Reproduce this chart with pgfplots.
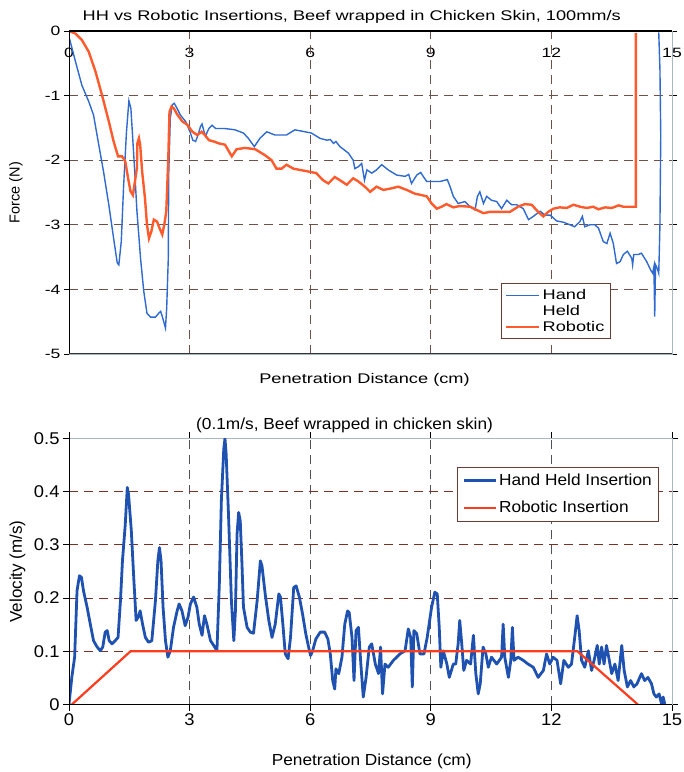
\documentclass[border=0pt]{standalone}
\usepackage{fontspec}
\setmainfont{Liberation Sans}
\newfontfamily\wideA{Liberation Sans}[FakeStretch=1.3]
\newfontfamily\wideB{Liberation Sans}[FakeStretch=1.08]
\usepackage{pgfplots}
\pgfplotsset{compat=1.18}

\definecolor{hhblue}{HTML}{2F6AD0}
\definecolor{robo}{HTML}{FF5A2C}
\definecolor{hhdeep}{HTML}{1F52B0}
\definecolor{robred}{HTML}{FF3C1E}
\definecolor{gridbrown}{HTML}{6E5249}
\definecolor{gridred}{HTML}{7A3226}
\definecolor{gridgray}{HTML}{4F5358}
\definecolor{framegray}{HTML}{A9B6C4}
\definecolor{legframe}{HTML}{6A3C34}

\begin{document}
\begin{tikzpicture}
\useasboundingbox (0,0) rectangle (684pt,772pt);

% ---------------- force vs penetration ----------------
\begin{axis}[
  at={(69pt,418pt)}, anchor=south west,
  scale only axis, width=603pt, height=323pt,
  xmin=0, xmax=15, ymin=-5, ymax=0,
  xtick={0,3,...,15}, ytick={-5,-4,...,0},
  xticklabel pos=upper,
  xticklabel style={anchor=north, yshift=-19pt},
  x tick style={draw=none},
  y tick style={black, line width=0.9pt},
  tick align=outside, major tick length=5pt,
  extra x ticks={3,6,9,12}, extra x tick labels={},
  extra y ticks={-4,-3,-2,-1}, extra y tick labels={},
  extra tick style={grid=major, major tick length=0pt},
  major grid style={gridbrown, line width=1.1pt, dash pattern=on 9pt off 6pt},
  axis line style={draw=framegray, line width=0.8pt},
  /pgf/number format/assume math mode=true,
  ticklabel style={font=\wideA\fontsize{13.5}{15}\selectfont},
  title={HH vs Robotic Insertions, Beef wrapped in Chicken Skin, 100mm/s},
  title style={at={(axis description cs:0.469,1.025)}, anchor=center,
    font=\wideA\fontsize{14}{16}\selectfont},
  xlabel={Penetration Distance (cm)},
  xlabel style={at={(axis description cs:0.49,-0.0805)}, anchor=center,
    font=\wideA\fontsize{14}{16}\selectfont},
  ylabel={Force (N)},
  ylabel style={at={(axis description cs:-0.088,0.5)}, anchor=center,
    font=\fontsize{14.5}{16}\selectfont},
  legend image code/.code={\draw[#1] (0pt,0pt) -- (33pt,0pt);},
  legend cell align=left,
  legend style={at={(0.716,0.219)}, anchor=north west, draw=legframe,
    line width=1pt, font=\wideA\fontsize{14}{15}\selectfont,
    row sep=0pt, inner sep=4pt},
]
\addplot[hhblue, line width=1.4pt] coordinates {
(0,-0.09) (0.16,-0.47) (0.32,-0.84) (0.49,-1.09) (0.61,-1.30) (0.74,-1.76)
(0.86,-2.18) (0.99,-2.69) (1.11,-3.21) (1.20,-3.59) (1.24,-3.62) (1.30,-3.26)
(1.36,-2.38) (1.43,-1.56) (1.49,-1.08) (1.54,-1.20) (1.59,-1.71) (1.64,-2.23)
(1.69,-2.79) (1.78,-3.52) (1.86,-4.03) (1.94,-4.37) (2.03,-4.43) (2.15,-4.43)
(2.23,-4.37) (2.28,-4.34) (2.33,-4.44) (2.40,-4.60) (2.43,-4.29) (2.47,-3.52)
(2.48,-2.23) (2.52,-1.35) (2.57,-1.14) (2.62,-1.12) (2.69,-1.20) (2.77,-1.30)
(2.90,-1.40) (3.01,-1.56) (3.08,-1.69) (3.15,-1.71) (3.21,-1.61) (3.27,-1.48)
(3.31,-1.44) (3.36,-1.56) (3.40,-1.63) (3.44,-1.56) (3.48,-1.51) (3.56,-1.46)
(3.65,-1.51) (3.88,-1.51) (4.13,-1.53) (4.34,-1.58) (4.46,-1.66) (4.61,-1.79)
(4.75,-1.66) (4.92,-1.56) (5.12,-1.61) (5.41,-1.61) (5.62,-1.53) (5.87,-1.56)
(6.03,-1.58) (6.24,-1.66) (6.41,-1.69) (6.50,-1.68) (6.58,-1.74) (6.64,-1.71)
(6.74,-1.79) (6.95,-1.89) (7.07,-2.00) (7.11,-2.13) (7.20,-2.10) (7.28,-2.05)
(7.35,-2.31) (7.41,-2.15) (7.53,-2.20) (7.65,-2.15) (7.78,-2.07) (7.94,-2.15)
(8.15,-2.23) (8.36,-2.25) (8.45,-2.22) (8.52,-2.36) (8.65,-2.23) (8.75,-2.19)
(8.81,-2.25) (8.90,-2.33) (9.06,-2.33) (9.23,-2.33) (9.41,-2.30) (9.48,-2.41)
(9.56,-2.56) (9.68,-2.67) (9.85,-2.64) (9.98,-2.72) (10.10,-2.77) (10.16,-2.56)
(10.22,-2.49) (10.31,-2.67) (10.39,-2.56) (10.51,-2.62) (10.64,-2.64) (10.76,-2.75)
(10.89,-2.62) (11.01,-2.69) (11.14,-2.69) (11.30,-2.75) (11.43,-2.92) (11.55,-2.87)
(11.72,-2.79) (11.84,-2.85) (11.97,-2.85) (12.13,-2.94) (12.30,-2.96) (12.46,-3.00)
(12.58,-3.03) (12.71,-2.95) (12.77,-2.87) (12.83,-3.03) (12.96,-3.00) (13.08,-3.00)
(13.17,-3.05) (13.29,-3.26) (13.38,-3.29) (13.46,-3.13) (13.54,-3.29) (13.62,-3.60)
(13.71,-3.57) (13.79,-3.46) (13.89,-3.41) (14.00,-3.52) (14.02,-3.62) (14.05,-3.46)
(14.16,-3.46) (14.24,-3.44) (14.37,-3.57) (14.47,-3.70) (14.52,-3.75) (14.55,-3.65)
(14.57,-4.42) (14.59,-3.62) (14.63,-3.67) (14.67,-3.75) (14.68,-3.52) (14.70,-3.00)
(14.72,-1.62) (14.70,-0.59) (14.67,-0.02)
};
\addlegendentry{Hand}
\addlegendimage{empty legend}
\addlegendentry{Held}
\addplot[robo, line width=2.4pt] coordinates {
(0,0) (0.16,-0.04) (0.32,-0.14) (0.49,-0.32) (0.66,-0.63) (0.82,-0.99)
(0.99,-1.40) (1.11,-1.71) (1.22,-1.94) (1.32,-1.94) (1.40,-2.02) (1.47,-2.28)
(1.53,-2.48) (1.59,-2.54) (1.64,-2.33) (1.69,-2.12) (1.70,-1.74) (1.74,-1.66)
(1.77,-1.76) (1.82,-2.18) (1.89,-2.59) (1.94,-3.00) (1.99,-3.21) (2.05,-3.10)
(2.11,-2.92) (2.19,-2.95) (2.25,-3.05) (2.32,-3.15) (2.37,-3.00) (2.42,-2.79)
(2.47,-1.97) (2.50,-1.25) (2.55,-1.17) (2.61,-1.20) (2.69,-1.29) (2.82,-1.40)
(2.94,-1.45) (3.07,-1.56) (3.19,-1.61) (3.30,-1.56) (3.38,-1.61) (3.48,-1.69)
(3.60,-1.71) (3.73,-1.74) (3.88,-1.76) (4.05,-1.94) (4.17,-1.83) (4.38,-1.81)
(4.63,-1.83) (4.87,-1.92) (5.04,-2.00) (5.16,-2.13) (5.29,-2.13) (5.41,-2.07)
(5.58,-2.13) (5.74,-2.15) (5.99,-2.18) (6.15,-2.20) (6.32,-2.31) (6.45,-2.36)
(6.61,-2.26) (6.74,-2.31) (6.91,-2.38) (7.07,-2.28) (7.20,-2.33) (7.36,-2.41)
(7.49,-2.49) (7.65,-2.41) (7.82,-2.46) (7.99,-2.44) (8.19,-2.41) (8.40,-2.46)
(8.61,-2.52) (8.77,-2.54) (8.90,-2.56) (9.02,-2.67) (9.15,-2.75) (9.27,-2.72)
(9.39,-2.68) (9.56,-2.73) (9.72,-2.71) (9.98,-2.72) (10.14,-2.77) (10.31,-2.82)
(10.47,-2.80) (10.72,-2.80) (10.97,-2.80) (11.17,-2.72) (11.34,-2.68) (11.51,-2.69)
(11.67,-2.80) (11.80,-2.87) (11.92,-2.80) (12.05,-2.75) (12.21,-2.73) (12.38,-2.74)
(12.55,-2.69) (12.71,-2.72) (12.88,-2.74) (13.04,-2.72) (13.17,-2.76) (13.34,-2.73)
(13.50,-2.74) (13.67,-2.70) (13.79,-2.72) (13.96,-2.72) (14.10,-2.72) (14.10,-0.03)
};
\addlegendentry{Robotic}
\draw[black, line width=1.1pt] (rel axis cs:0,0) -- (rel axis cs:0,1) -- (rel axis cs:1,1);
\draw[black!80, line width=1pt] (rel axis cs:0,0) -- (rel axis cs:1,0);
\end{axis}

% ---------------- velocity vs penetration ----------------
\begin{axis}[
  at={(69pt,67.5pt)}, anchor=south west,
  scale only axis, width=603pt, height=266pt,
  xmin=0, xmax=15, ymin=0, ymax=0.5,
  xtick={0,3,...,15},
  ytick={0,0.1,0.2,0.3,0.4,0.5},
  yticklabels={0,0.1,0.2,0.3,0.4,0.5},
  tick style={black, line width=0.9pt},
  tick align=outside, major tick length=6pt,
  extra x ticks={3,6,9,12}, extra x tick labels={},
  extra y ticks={0.1,0.2,0.3,0.4}, extra y tick labels={},
  extra tick style={grid=major, major tick length=0pt},
  x grid style={gridgray, line width=1.1pt, dash pattern=on 9pt off 6pt},
  y grid style={gridred, line width=1.1pt, dash pattern=on 9pt off 6pt},
  axis line style={draw=framegray, line width=0.8pt},
  /pgf/number format/assume math mode=true,
  ticklabel style={font=\wideB\fontsize{17}{19}\selectfont},
  title={(0.1m/s, Beef wrapped in chicken skin)},
  title style={at={(axis description cs:0.457,1.026)}, anchor=center,
    font=\wideB\fontsize{16}{18}\selectfont},
  xlabel={Penetration Distance (cm)},
  xlabel style={at={(axis description cs:0.502,-0.212)}, anchor=center,
    font=\wideB\fontsize{16}{18}\selectfont},
  ylabel={Velocity (m/s)},
  ylabel style={at={(axis description cs:-0.0854,0.5)}, anchor=center,
    font=\fontsize{17}{19}\selectfont},
  legend image code/.code={\draw[#1] (0pt,0pt) -- (32pt,0pt);},
  legend cell align=left,
  legend style={at={(0.643,0.894)}, anchor=north west, draw=legframe,
    line width=1pt, font=\wideB\fontsize{16}{18}\selectfont,
    row sep=10pt, inner sep=5pt},
]
\addplot[hhdeep, line width=2.8pt, line join=round] coordinates {
(0,0) (0.07,0.051) (0.14,0.089) (0.20,0.214) (0.26,0.242) (0.31,0.239) (0.36,0.214)
(0.45,0.183) (0.53,0.151) (0.61,0.120) (0.70,0.108) (0.78,0.101) (0.84,0.108)
(0.90,0.136) (0.95,0.139) (1.00,0.120) (1.07,0.114) (1.15,0.120) (1.22,0.126)
(1.28,0.195) (1.33,0.270) (1.40,0.339) (1.45,0.408) (1.48,0.396) (1.55,0.327)
(1.61,0.239) (1.67,0.158) (1.72,0.164) (1.77,0.176) (1.83,0.151) (1.90,0.126)
(1.98,0.117) (2.06,0.120) (2.15,0.195) (2.21,0.270) (2.25,0.295) (2.29,0.270)
(2.34,0.183) (2.40,0.120) (2.46,0.089) (2.52,0.101) (2.60,0.145) (2.69,0.176)
(2.74,0.189) (2.81,0.176) (2.89,0.148) (2.96,0.164) (3.02,0.189) (3.10,0.202)
(3.18,0.183) (3.24,0.151) (3.31,0.130) (3.37,0.167) (3.43,0.151) (3.52,0.120)
(3.60,0.111) (3.68,0.101) (3.74,0.227) (3.79,0.383) (3.85,0.480) (3.88,0.500)
(3.91,0.470) (3.97,0.352) (4.04,0.195) (4.10,0.120) (4.14,0.176) (4.18,0.320)
(4.22,0.361) (4.26,0.345) (4.30,0.270) (4.34,0.183) (4.43,0.145) (4.51,0.136)
(4.59,0.134) (4.68,0.195) (4.76,0.270) (4.80,0.261) (4.88,0.208) (4.97,0.158)
(5.05,0.126) (5.13,0.151) (5.22,0.208) (5.26,0.202) (5.32,0.151) (5.38,0.095)
(5.45,0.086) (5.51,0.126) (5.59,0.220) (5.65,0.223) (5.73,0.202) (5.81,0.170)
(5.89,0.133) (5.96,0.108) (6.01,0.092) (6.06,0.101) (6.14,0.123) (6.25,0.136)
(6.36,0.136) (6.44,0.123) (6.50,0.095) (6.56,0.045) (6.61,0.029) (6.64,0.067)
(6.71,0.058) (6.79,0.089) (6.86,0.151) (6.93,0.176) (6.97,0.173) (7.04,0.126)
(7.09,0.045) (7.14,0.139) (7.20,0.145) (7.26,0.076) (7.32,0.014) (7.39,0.051)
(7.47,0.108) (7.53,0.114) (7.62,0.076) (7.70,0.058) (7.75,0.108) (7.80,0.020)
(7.86,0.076) (7.94,0.070) (8.07,0.083) (8.23,0.095) (8.36,0.101) (8.44,0.142)
(8.50,0.126) (8.54,0.033) (8.58,0.139) (8.65,0.133) (8.73,0.095) (8.83,0.095)
(8.91,0.126) (9.02,0.183) (9.10,0.211) (9.16,0.208) (9.21,0.145) (9.25,0.070)
(9.31,0.101) (9.40,0.076) (9.46,0.051) (9.56,0.076) (9.62,0.076) (9.68,0.114)
(9.72,0.158) (9.77,0.114) (9.82,0.064) (9.89,0.083) (9.99,0.076) (10.06,0.130)
(10.12,0.058) (10.18,0.020) (10.23,0.039) (10.30,0.108) (10.37,0.095) (10.43,0.070)
(10.51,0.089) (10.64,0.076) (10.76,0.089) (10.80,0.151) (10.84,0.089) (10.93,0.051)
(10.99,0.083) (11.03,0.145) (11.07,0.083) (11.17,0.089) (11.30,0.083) (11.42,0.076)
(11.55,0.070) (11.67,0.051) (11.80,0.064) (11.88,0.095) (11.96,0.076) (12.04,0.089)
(12.14,0.083) (12.23,0.039) (12.31,0.083) (12.42,0.070) (12.50,0.076) (12.58,0.126)
(12.64,0.167) (12.69,0.139) (12.75,0.083) (12.83,0.070) (12.92,0.101) (13.00,0.064)
(13.08,0.089) (13.14,0.111) (13.19,0.076) (13.25,0.108) (13.31,0.076) (13.37,0.111)
(13.44,0.083) (13.50,0.058) (13.58,0.076) (13.66,0.045) (13.75,0.111) (13.81,0.064)
(13.89,0.033) (13.97,0.045) (14.05,0.033) (14.13,0.039) (14.24,0.058) (14.32,0.045)
(14.40,0.051) (14.49,0.039) (14.55,0.020) (14.61,0.014) (14.68,0.020) (14.74,0.001)
(14.78,0.014) (14.82,0.001)
};
\addlegendentry{Hand Held Insertion}
\addplot[robred, line width=2.2pt] coordinates {
(0.07,0) (1.53,0.1) (12.65,0.1) (14.15,0)
};
\addlegendentry{Robotic Insertion}
\draw[black, line width=1.1pt] (rel axis cs:0,1) -- (rel axis cs:0,0) -- (rel axis cs:1,0);
\end{axis}
\end{tikzpicture}
\end{document}
